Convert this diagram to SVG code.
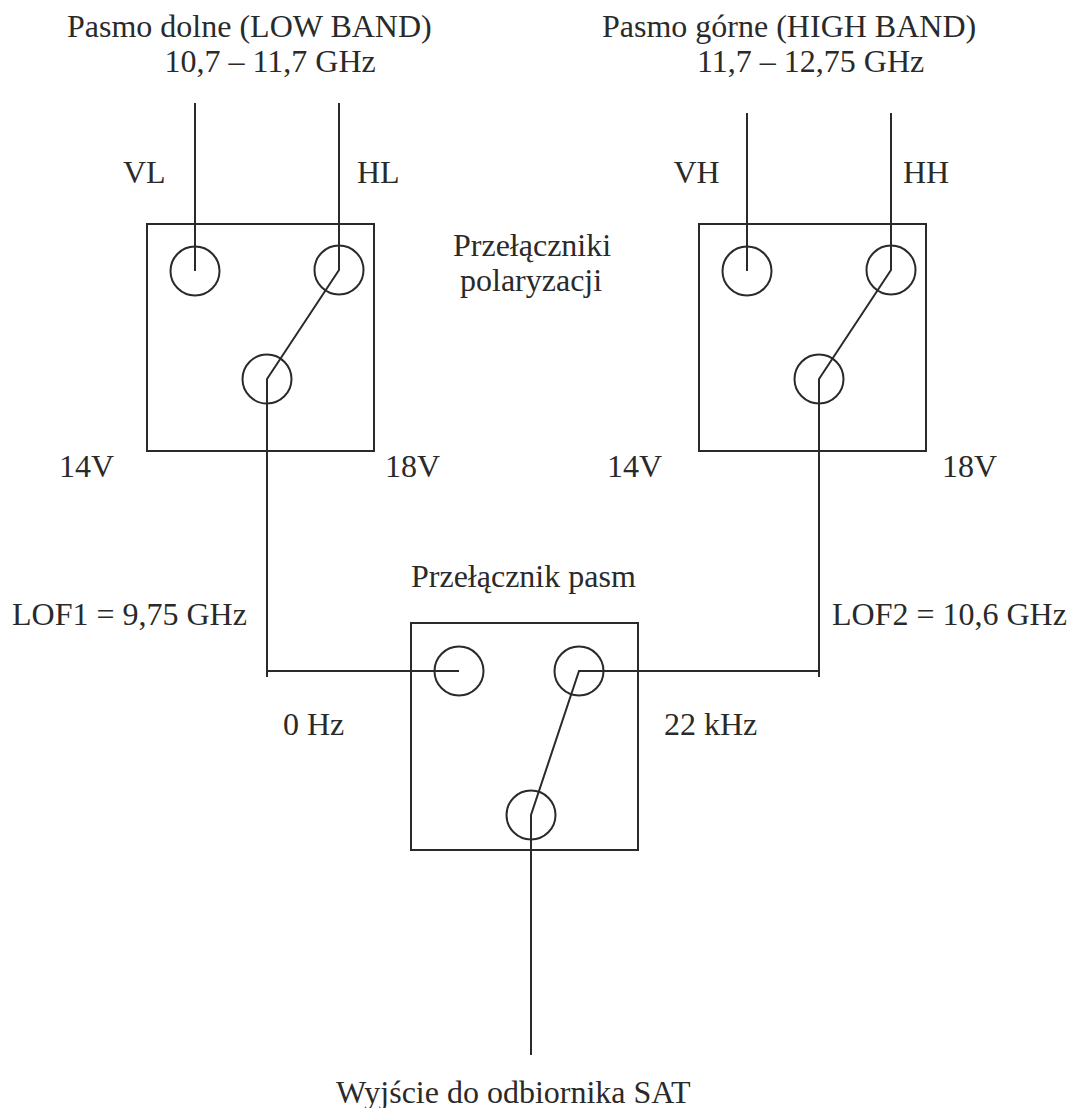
<svg xmlns="http://www.w3.org/2000/svg" width="1069" height="1108" viewBox="0 0 1069 1108">
<style>
text{font-family:"Liberation Serif","Times New Roman",serif;font-size:32px;fill:#2a2a2a}
.s{fill:none;stroke:#2a2a2a;stroke-width:2}
</style>
<rect width="1069" height="1108" fill="#fff"/>
<g id="switch-low">
<rect class="s" x="147" y="224" width="227" height="227"/>
<circle class="s" cx="195" cy="271" r="24.500"/>
<circle class="s" cx="339" cy="270" r="24.500"/>
<circle class="s" cx="267" cy="379" r="24.500"/>
</g>
<g id="switch-high">
<rect class="s" x="699" y="224" width="227" height="227"/>
<circle class="s" cx="747" cy="271" r="24.500"/>
<circle class="s" cx="891" cy="270" r="24.500"/>
<circle class="s" cx="819" cy="379" r="24.500"/>
</g>
<g id="switch-band">
<rect class="s" x="411" y="623" width="227" height="227"/>
<circle class="s" cx="459" cy="671" r="24.500"/>
<circle class="s" cx="579" cy="671" r="24.500"/>
<circle class="s" cx="531" cy="815" r="24.500"/>
</g>
<g id="connectors">
<path class="s" d="M195 103V271"/>
<path class="s" d="M339 103V270L267 379V677"/>
<path class="s" d="M747 113V271"/>
<path class="s" d="M891 113V270L819 379V677"/>
<path class="s" d="M267 671H459"/>
<path class="s" d="M819 671H579L531 815V1055"/>
</g>
<g id="labels">
<text x="67" y="37">Pasmo dolne (LOW BAND)</text>
<text x="164.500" y="72">10,7 – 11,7 GHz</text>
<text x="602" y="37">Pasmo górne (HIGH BAND)</text>
<text x="697" y="72">11,7 – 12,75 GHz</text>
<text x="123" y="183">VL</text>
<text x="357" y="183">HL</text>
<text x="673.500" y="183">VH</text>
<text x="903" y="183">HH</text>
<text x="453" y="256">Przełączniki</text>
<text x="460" y="291">polaryzacji</text>
<text x="59" y="477">14V</text>
<text x="385" y="477">18V</text>
<text x="607" y="477">14V</text>
<text x="942" y="477">18V</text>
<text x="411" y="587">Przełącznik pasm</text>
<text x="12" y="625">LOF1 = 9,75 GHz</text>
<text x="832" y="625">LOF2 = 10,6 GHz</text>
<text x="283" y="735">0 Hz</text>
<text x="664" y="735">22 kHz</text>
<text x="336" y="1103">Wyjście do odbiornika SAT</text>
</g>
</svg>
